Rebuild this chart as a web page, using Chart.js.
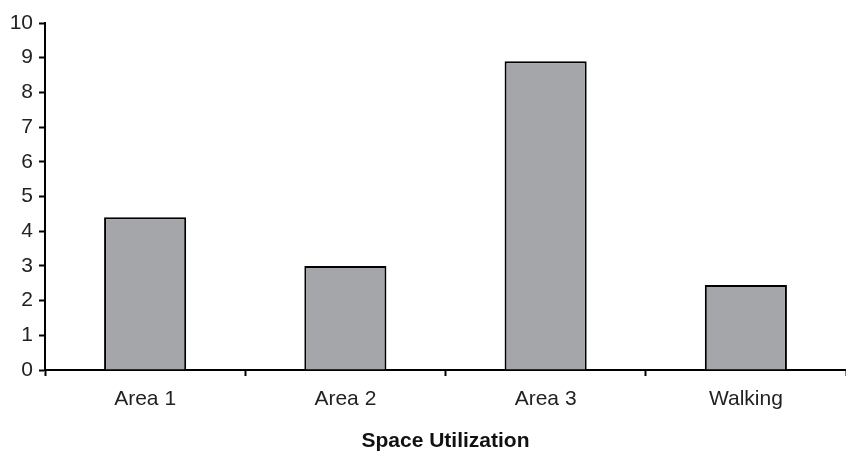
<!DOCTYPE html>
<html>
<head>
<meta charset="utf-8">
<script src="https://cdn.jsdelivr.net/npm/chart.js@4"></script>
<style>
  html, body { margin: 0; padding: 0; background: #fff; }
  #wrap { width: 846px; height: 453px; }
</style>
</head>
<body>
<div id="wrap"><canvas id="chart"></canvas></div>
<script>
const categories = ['Area 1', 'Area 2', 'Area 3', 'Walking'];
const values = [4.4, 3.0, 8.9, 2.45];
const axisTitle = 'Space Utilization';

const font = { family: "'Liberation Sans', Arial, sans-serif", size: 21 };

new Chart(document.getElementById('chart').getContext('2d'), {
  type: 'bar',
  data: {
    labels: categories,
    datasets: [{
      data: values,
      backgroundColor: '#a5a6aa',
      borderColor: '#000',
      borderWidth: { top: 2, left: 2, right: 2, bottom: 0 },
      borderSkipped: 'bottom',
      categoryPercentage: 0.41,
      barPercentage: 1,
    }],
  },
  options: {
    responsive: true,
    maintainAspectRatio: false,
    animation: false,
    layout: { padding: { top: 23, right: 0, left: 0, bottom: 0 } },
    plugins: { legend: { display: false }, tooltip: { enabled: false } },
    scales: {
      x: {
        grid: {
          offset: true,
          drawOnChartArea: false,
          color: '#000',
          tickLength: 6,
          tickWidth: 2,
        },
        border: { color: '#000', width: 2 },
        ticks: { color: '#222', font, padding: 11 },
        title: {
          display: true,
          text: axisTitle,
          color: '#111',
          font: { family: font.family, size: 21, weight: 'bold' },
          padding: { top: 20, bottom: -1 },
        },
        afterFit(scale) { scale.height = 83; },
      },
      y: {
        min: 0,
        max: 10,
        ticks: { stepSize: 1, color: '#222', font, padding: 6 },
        grid: {
          drawOnChartArea: false,
          color: '#000',
          tickLength: 6,
          tickWidth: 2,
        },
        border: { color: '#000', width: 2 },
        afterFit(scale) { scale.width = 45; },
      },
    },
  },
});
</script>
</body>
</html>
